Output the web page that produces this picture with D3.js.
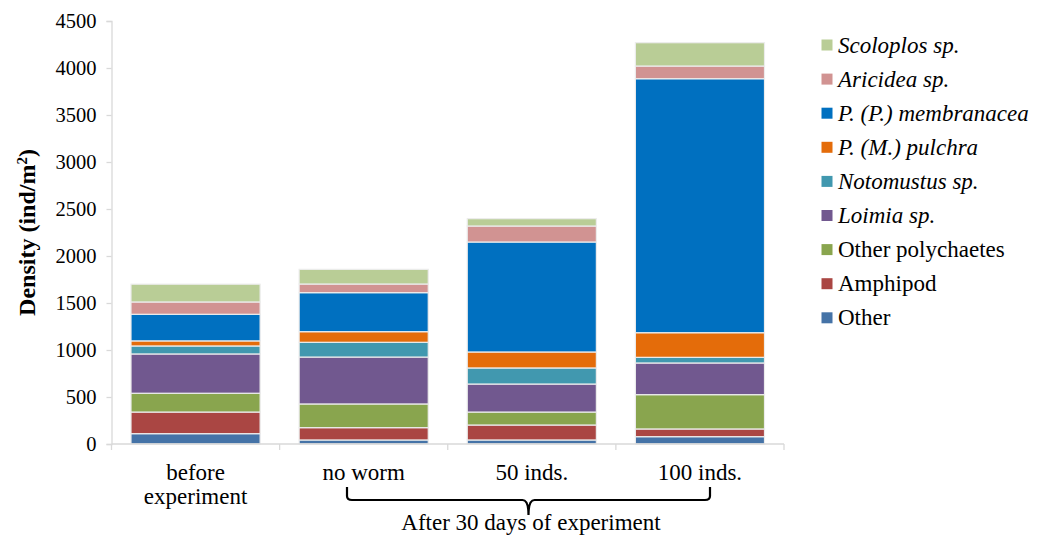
<!DOCTYPE html>
<html>
<head>
<meta charset="utf-8">
<script src="https://cdn.jsdelivr.net/npm/d3@7"></script>
<style>
html,body{margin:0;padding:0;background:#fff;}
svg{display:block;}
text{font-family:"Liberation Serif","Times New Roman",serif;fill:#000;}
</style>
</head>
<body>
<svg id="chart" width="1043" height="535" font-family="Liberation Serif, Times New Roman, serif"></svg>
<script>
// ---- data ----
const categories = ["before experiment", "no worm", "50 inds.", "100 inds."];
const seriesNames = ["Other", "Amphipod", "Other polychaetes", "Loimia sp.", "Notomustus sp.", "P. (M.) pulchra", "P. (P.) membranacea", "Aricidea sp.", "Scoloplos sp."];
const seriesItalic = [false, false, false, true, true, true, true, true, true];
const seriesColors = ["#4573a7", "#aa4643", "#89a54e", "#71588f", "#4198af", "#e46c0a", "#0070c0", "#d19392", "#b9cd96"];
const valOther       = [110, 43, 43, 78];
const valAmphipod    = [230, 131, 159, 82];
const valOtherPoly   = [200, 252, 138, 365];
const valLoimia      = [418, 499, 298, 337];
const valNotomustus  = [85, 157, 171, 60];
const valPulchra     = [54, 113, 170, 262];
const valMembranacea = [283, 415, 1170, 2702];
const valAricidea    = [131, 92, 170, 135];
const valScoloplos   = [189, 156, 78, 248];
const yTicks = [0, 500, 1000, 1500, 2000, 2500, 3000, 3500, 4000, 4500];
const yTitle = "Density (ind/m";
const groupLabel = "After 30 days of experiment";

const seriesValues = [valOther, valAmphipod, valOtherPoly, valLoimia, valNotomustus, valPulchra, valMembranacea, valAricidea, valScoloplos];

// ---- build table for stack ----
const table = categories.map((c, i) => {
  const row = {cat: c};
  seriesNames.forEach((s, j) => row[s] = seriesValues[j][i]);
  return row;
});

const svg = d3.select("#chart");
const plot = {left: 111.5, right: 784, top: 21, bottom: 444};
const serif = "Liberation Serif, Times New Roman, serif";

const x = d3.scaleBand().domain(categories).range([plot.left, plot.right]).paddingInner(0.232).paddingOuter(0.116);
const y = d3.scaleLinear().domain([0, 4500]).range([plot.bottom, plot.top]);

const stack = d3.stack().keys(seriesNames);
const layers = stack(table);

const axisColor = "#d9d9d9";

// y axis
const yAxis = svg.append("g").attr("transform", `translate(${plot.left},0)`)
  .call(d3.axisLeft(y).tickValues(yTicks).tickSize(5).tickPadding(10).tickFormat(d3.format("d")));
yAxis.attr("font-family", serif);
yAxis.select(".domain").attr("stroke", axisColor).attr("stroke-width", 1.3);
yAxis.selectAll(".tick line").attr("stroke", axisColor).attr("stroke-width", 1.3);
yAxis.selectAll(".tick text").attr("font-size", 20.5).attr("font-family", serif).attr("fill", "#000");

// bars
svg.append("g").selectAll("g").data(layers).join("g")
  .attr("fill", (d, i) => seriesColors[i])
  .selectAll("rect").data(d => d).join("rect")
  .attr("x", d => x(d.data.cat))
  .attr("width", x.bandwidth())
  .attr("y", d => y(d[1]))
  .attr("height", d => y(d[0]) - y(d[1]))
  .attr("stroke", "#ececec")
  .attr("stroke-width", 1.2);

// x axis
svg.append("line").attr("x1", plot.left).attr("x2", plot.right).attr("y1", plot.bottom).attr("y2", plot.bottom)
  .attr("stroke", axisColor).attr("stroke-width", 1.3);
const bounds = categories.map(c => x(c) - x.step() * x.paddingInner() / 2).concat([plot.right]);
bounds[0] = plot.left;
svg.append("g").selectAll("line").data(bounds).join("line")
  .attr("x1", d => d).attr("x2", d => d).attr("y1", plot.bottom).attr("y2", plot.bottom + 6)
  .attr("stroke", axisColor).attr("stroke-width", 1.3);

// category labels
const catG = svg.append("g");
categories.forEach(c => {
  const cx = x(c) + x.bandwidth() / 2;
  const t = catG.append("text").attr("x", cx).attr("y", 480).attr("text-anchor", "middle").attr("font-size", 23);
  if (c === "before experiment") {
    t.append("tspan").attr("x", cx).attr("dy", 0).text("before");
    t.append("tspan").attr("x", cx).attr("dy", 24).text("experiment");
  } else {
    t.text(c);
  }
});

// bracket
const bx1 = 347;
const bx2 = 710;
const bm = 528.5;
const by0 = 487, by1 = 500, by2 = 515;
svg.append("path")
  .attr("d", `M${bx1},${by0} L${bx1},${by1 - 4} Q${bx1},${by1} ${bx1 + 5},${by1} L${bm - 6},${by1} Q${bm},${by1} ${bm},${by2} Q${bm},${by1} ${bm + 6},${by1} L${bx2 - 5},${by1} Q${bx2},${by1} ${bx2},${by1 - 4} L${bx2},${by0}`)
  .attr("fill", "none").attr("stroke", "#000").attr("stroke-width", 2.2);
svg.append("text").attr("x", 531).attr("y", 530).attr("text-anchor", "middle").attr("font-size", 23).text(groupLabel);

// y title
const yt = svg.append("text").attr("transform", `translate(35,${(plot.top + plot.bottom) / 2}) rotate(-90)`)
  .attr("text-anchor", "middle").attr("font-size", 24).attr("font-weight", "bold");
yt.append("tspan").text(yTitle);
yt.append("tspan").attr("baseline-shift", "super").attr("font-size", 15).text("2");
yt.append("tspan").text(")");

// legend (reverse order)
const legend = svg.append("g");
const order = seriesNames.map((s, i) => i).reverse();
order.forEach((si, k) => {
  const cy = 45 + k * 34.1;
  legend.append("rect").attr("x", 821.5).attr("y", cy - 5.5).attr("width", 11).attr("height", 11).attr("fill", seriesColors[si]);
  legend.append("text").attr("x", 838).attr("y", cy + 7.5).attr("font-size", 23)
    .attr("font-style", seriesItalic[si] ? "italic" : "normal").text(seriesNames[si]);
});
</script>
</body>
</html>
